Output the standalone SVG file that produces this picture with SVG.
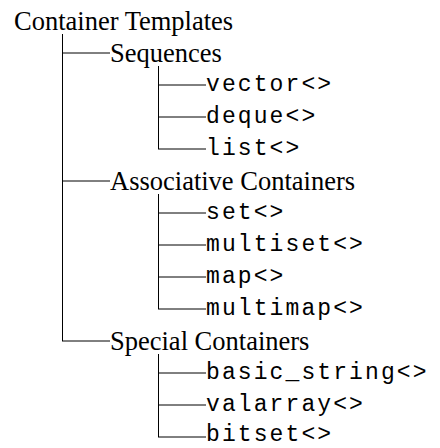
<svg xmlns="http://www.w3.org/2000/svg" width="440" height="448" viewBox="0 0 440 448">
<style>
.cat{font-family:"Liberation Serif","Times New Roman",serif;font-size:26.5px;fill:#000}
.leaf{font-family:"Liberation Mono","Courier New",monospace;font-size:23px;letter-spacing:2.1px;fill:#000}
.conn line{stroke:#000;stroke-width:1;fill:none}
</style>
<rect width="440" height="448" fill="#fff"/>
<g id="connectors" class="conn">
<line x1="62.5" y1="34" x2="62.5" y2="341"/>
<line x1="62" y1="53" x2="110" y2="53"/>
<line x1="62" y1="181" x2="110" y2="181"/>
<line x1="62" y1="341" x2="110" y2="341"/>
<line x1="158.5" y1="66" x2="158.5" y2="149"/>
<line x1="158" y1="85" x2="206" y2="85"/>
<line x1="158" y1="117" x2="206" y2="117"/>
<line x1="158" y1="149" x2="206" y2="149"/>
<line x1="158.5" y1="194" x2="158.5" y2="309"/>
<line x1="158" y1="213" x2="206" y2="213"/>
<line x1="158" y1="245" x2="206" y2="245"/>
<line x1="158" y1="277" x2="206" y2="277"/>
<line x1="158" y1="309" x2="206" y2="309"/>
<line x1="158.5" y1="354" x2="158.5" y2="437"/>
<line x1="158" y1="373" x2="206" y2="373"/>
<line x1="158" y1="405" x2="206" y2="405"/>
<line x1="158" y1="437" x2="206" y2="437"/>
</g>
<g id="root"><text class="cat" x="14" y="30">Container Templates</text></g>
<g id="sequences"><text class="cat" x="110" y="62">Sequences</text></g>
<g id="vector"><text class="leaf" x="206" y="91">vector&lt;&gt;</text></g>
<g id="deque"><text class="leaf" x="206" y="123">deque&lt;&gt;</text></g>
<g id="list"><text class="leaf" x="206" y="155">list&lt;&gt;</text></g>
<g id="associative"><text class="cat" x="110" y="190">Associative Containers</text></g>
<g id="set"><text class="leaf" x="206" y="219">set&lt;&gt;</text></g>
<g id="multiset"><text class="leaf" x="206" y="251">multiset&lt;&gt;</text></g>
<g id="map"><text class="leaf" x="206" y="283">map&lt;&gt;</text></g>
<g id="multimap"><text class="leaf" x="206" y="315">multimap&lt;&gt;</text></g>
<g id="special"><text class="cat" x="110" y="350">Special Containers</text></g>
<g id="basic_string"><text class="leaf" x="206" y="379">basic_string&lt;&gt;</text></g>
<g id="valarray"><text class="leaf" x="206" y="411">valarray&lt;&gt;</text></g>
<g id="bitset"><text class="leaf" x="206" y="441">bitset&lt;&gt;</text></g>
</svg>
